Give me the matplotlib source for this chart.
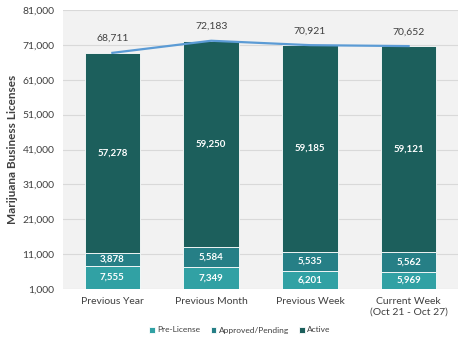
import matplotlib
matplotlib.use('Agg')
import matplotlib.pyplot as plt
import numpy as np

categories = ['Previous Year', 'Previous Month', 'Previous Week', 'Current Week\n(Oct 21 - Oct 27)']
pre_license = [7555, 7349, 6201, 5969]
approved = [3878, 5584, 5535, 5562]
active = [57278, 59250, 59185, 59121]
totals = [68711, 72183, 70921, 70652]

C_PRE = '#31A1A4'
C_APP = '#267F86'
C_ACT = '#1C5F5C'
C_LINE = '#5B9BD5'
Y_MIN = 1000

plt.rcParams['font.family'] = ['Lato', 'DejaVu Sans']

fig = plt.figure(figsize=(4.68, 3.43), dpi=100)
ax = fig.add_axes([63 / 468, 1 - 289 / 343, 395 / 468, 279 / 343])
ax.set_facecolor('#F2F2F2')

x = np.arange(len(categories))
w = 0.56
pre = np.array(pre_license)
app = np.array(approved)
act = np.array(active)

b1 = ax.bar(x, pre, w, color=C_PRE, edgecolor='white', linewidth=0.6, label='Pre-License', zorder=2)
b2 = ax.bar(x, app, w, bottom=pre, color=C_APP, edgecolor='white', linewidth=0.6, label='Approved/Pending', zorder=2)
b3 = ax.bar(x, act, w, bottom=pre + app, color=C_ACT, edgecolor='white', linewidth=0.6, label='Active', zorder=2)
ax.plot(x, totals, color=C_LINE, linewidth=1.6, zorder=3)

# labels inside segments (centered on visible part)
for i in range(len(x)):
    lo = [Y_MIN, pre[i], pre[i] + app[i]]
    hi = [pre[i], pre[i] + app[i], pre[i] + app[i] + act[i]]
    vals = [pre[i], app[i], act[i]]
    for l, h, v in zip(lo, hi, vals):
        ax.text(x[i], (l + h) / 2, f'{v:,}', ha='center', va='center', color='white',
                fontsize=7, fontweight='bold', zorder=4)
    ax.annotate(f'{totals[i]:,}', (x[i], totals[i]), xytext=(0, 7), textcoords='offset points',
                ha='center', va='bottom', color='#404040', fontsize=7.5, zorder=4)

ax.set_xlim(-0.5, len(x) - 0.5)
ax.set_ylim(Y_MIN, 81000)
ax.set_yticks(np.arange(1000, 81001, 10000))
ax.yaxis.set_major_formatter(matplotlib.ticker.FuncFormatter(lambda v, p: f'{int(v):,}'))
ax.grid(True, axis='y', color='#D9D9D9', linewidth=0.8, zorder=0)
ax.set_axisbelow(True)
ax.set_xticks(x)
ax.set_xticklabels(categories)
ax.tick_params(axis='both', length=0, labelsize=7.5, labelcolor='#404040', pad=6)
for s in ax.spines.values():
    s.set_visible(False)
ax.set_ylabel('Marijuana Business Licenses', fontsize=8.5, fontweight='bold', color='#404040', labelpad=3)

fig.legend(handles=[b1, b2, b3], loc='center', bbox_to_anchor=(240 / 468, 1 - 330 / 343), ncol=3,
           frameon=False, fontsize=6, handlelength=0.7, handleheight=0.7, handletextpad=0.3,
           columnspacing=1.2, labelcolor='#404040')

fig.savefig('out.png', dpi=100)
